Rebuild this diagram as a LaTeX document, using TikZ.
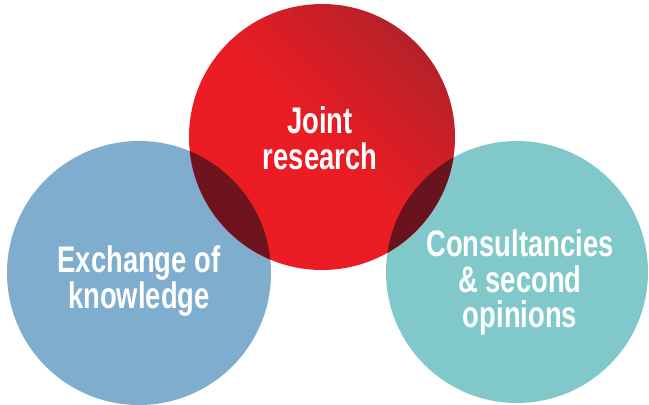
\documentclass[tikz,border=0pt]{standalone}
\usepackage{fontspec}
\newfontfamily\labelfont{Liberation Sans}[FakeStretch=0.74]
\definecolor{cblue}{HTML}{7FADCD}
\definecolor{cteal}{HTML}{81C8CA}
\definecolor{cred}{HTML}{ED1C24}
\definecolor{cdred}{HTML}{B52128}
\definecolor{coverlap}{HTML}{6D141E}
\tikzset{
  bubble/.style={circle, inner sep=0pt, draw=none},
  lbl/.style={text=white, align=center, inner sep=0pt,
    font=\labelfont\bfseries\fontsize{37bp}{35.5bp}\selectfont}
}
\begin{document}
\begin{tikzpicture}[x=1bp,y=-1bp]
\useasboundingbox (0,0) rectangle (649,404);
\node[bubble, fill=cblue, minimum size=264bp] (kn) at (139,273) {};
\node[bubble, fill=cteal, minimum size=262bp] (co) at (517,272) {};
\node[bubble, top color=cdred, bottom color=cred, middle color=cred!94!cdred, shading angle=-45, minimum size=266bp] (jr) at (322,137) {};
\begin{scope}
  \clip (jr.center) circle[radius=133];
  \fill[coverlap] (kn.center) circle[radius=132];
  \fill[coverlap!95!black] (co.center) circle[radius=131];
\end{scope}
\node[lbl] (tjr) at (320,138.5) {Joint\\research};
\node[lbl] (tkn) at (139,281) {Exchange of\\knowledge};
\node[lbl] (tco) at (520,282.5) {Consultancies\\\& second\\opinions};
\end{tikzpicture}
\end{document}
